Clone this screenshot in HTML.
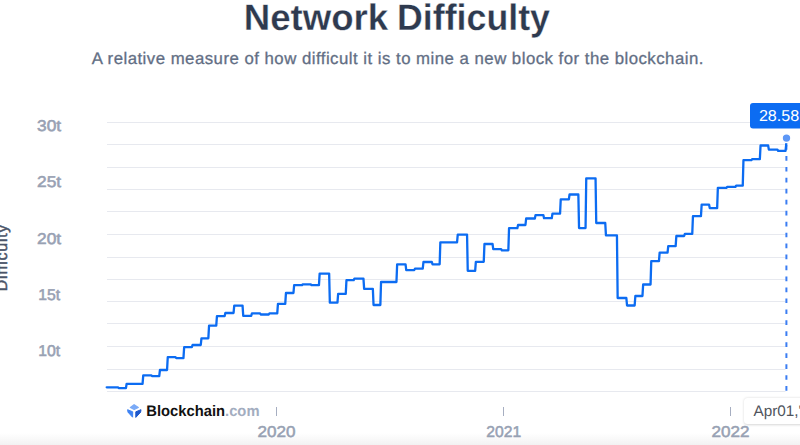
<!DOCTYPE html>
<html><head><meta charset="utf-8">
<style>
html,body{margin:0;padding:0;}
body{width:800px;height:445px;overflow:hidden;position:relative;background:#fff;font-family:"Liberation Sans",sans-serif;}
svg text{font-family:"Liberation Sans",sans-serif;text-rendering:geometricPrecision;}
#fade{position:absolute;left:0;top:433px;width:800px;height:12px;background:linear-gradient(#fff,#f5f5f5 80%,#f2f2f2);}
#date{position:absolute;left:744.3px;top:397.8px;width:70px;height:25.8px;background:#fff;border-radius:3.5px;box-shadow:0 0.5px 2.5px rgba(0,0,0,0.16);}
.tick{position:absolute;top:407px;width:1.4px;height:8.8px;background:#a6aec1;}
</style></head><body>
<div id="fade"></div>
<div class="tick" style="left:276px"></div>
<div class="tick" style="left:503px"></div>
<div class="tick" style="left:730px"></div>
<svg width="800" height="445" style="position:absolute;left:0;top:0">
<g font-size="36.8" font-weight="bold" fill="#2e3a4f" stroke="#fff" stroke-width="0.3"><text transform="translate(243.7,30.2) scale(0.995,1)">Network</text><text transform="translate(397.0,30.2) scale(0.972,1)">Difficulty</text></g>
<text x="91.7" y="63.8" font-size="16.8" fill="#626e84" stroke="#626e84" stroke-width="0.3" style="letter-spacing:0.48px">A relative measure of how difficult it is to mine a new block for the blockchain.</text>
<g font-size="15.6" fill="#98a1b3" stroke="#98a1b3" stroke-width="0.55" text-anchor="middle"><text transform="translate(49.1,131.40) scale(1.11,1)">30t</text><text transform="translate(49.1,187.45) scale(1.11,1)">25t</text><text transform="translate(49.1,243.50) scale(1.11,1)">20t</text><text transform="translate(49.1,299.55) scale(1.01,1)">15t</text><text transform="translate(49.1,355.60) scale(1.01,1)">10t</text></g>
<text transform="translate(7.45,291.3) rotate(-90)" font-size="16" fill="#4b5569" stroke="#4b5569" stroke-width="0.45" style="letter-spacing:0.72px">Difficulty</text>
<g stroke="#e7e9ef" stroke-width="1"><line x1="107" x2="785.5" y1="122.5" y2="122.5"/><line x1="107" x2="785.5" y1="144.5" y2="144.5"/><line x1="107" x2="785.5" y1="167.5" y2="167.5"/><line x1="107" x2="785.5" y1="189.5" y2="189.5"/><line x1="107" x2="785.5" y1="211.5" y2="211.5"/><line x1="107" x2="785.5" y1="234.5" y2="234.5"/><line x1="107" x2="785.5" y1="257.5" y2="257.5"/><line x1="107" x2="785.5" y1="279.5" y2="279.5"/><line x1="107" x2="785.5" y1="301.5" y2="301.5"/><line x1="107" x2="785.5" y1="323.5" y2="323.5"/><line x1="107" x2="785.5" y1="346.5" y2="346.5"/><line x1="107" x2="785.5" y1="369.5" y2="369.5"/><line x1="107" x2="785.5" y1="391.5" y2="391.5"/></g>
<line x1="786.4" x2="786.4" y1="390.8" y2="140" stroke="#3b7df2" stroke-width="2" stroke-dasharray="4.7 6.26"/>
<path d="M106.70,387.30L117.95,387.30L118.65,388.10L125.95,388.10L126.65,383.80L142.55,383.80L143.25,375.30L151.25,375.30L151.95,376.10L159.25,376.10L159.95,370.00L167.05,370.00L167.75,357.20L175.55,357.20L176.25,358.10L183.45,358.10L184.15,347.20L191.85,347.20L192.55,345.00L200.75,345.00L201.45,338.30L208.35,338.30L209.05,325.70L216.25,325.70L216.95,316.10L224.65,316.10L225.35,313.00L233.55,313.00L234.25,305.60L242.55,305.60L243.25,315.80L251.25,315.80L251.95,313.30L260.05,313.30L260.75,314.50L268.75,314.50L269.45,313.40L277.25,313.40L277.95,303.90L285.25,303.90L285.95,293.00L293.45,293.00L294.15,285.10L302.05,285.10L302.75,284.40L310.75,284.40L311.45,285.10L318.95,285.10L319.65,273.60L329.15,273.60L329.85,302.70L337.45,302.70L338.15,293.90L345.75,293.90L346.45,280.20L353.65,280.20L354.35,278.60L363.45,278.60L364.15,288.80L372.85,288.80L373.55,305.00L380.35,305.00L381.05,282.00L396.45,282.00L397.15,264.30L405.55,264.30L406.25,270.10L414.25,270.10L414.95,268.70L422.75,268.70L423.45,262.00L431.85,262.00L432.55,264.30L439.65,264.30L440.35,242.30L457.05,242.30L457.75,234.60L467.05,234.60L467.75,270.80L475.15,270.80L475.85,261.80L483.75,261.80L484.45,244.00L492.55,244.00L493.25,249.20L501.15,249.20L501.85,250.30L508.35,250.30L509.05,228.20L517.35,228.20L518.05,225.00L525.45,225.00L526.15,218.50L534.85,218.50L535.55,215.10L543.35,215.10L544.05,218.20L551.75,218.20L552.45,213.70L560.05,213.70L560.75,199.30L568.85,199.30L569.55,194.50L578.35,194.50L579.05,228.10L585.55,228.10L586.25,178.30L595.55,178.30L596.25,223.00L605.25,223.00L605.95,235.40L616.95,235.40L617.65,298.00L626.35,298.00L627.05,305.50L634.65,305.50L635.35,296.00L642.45,296.00L643.15,284.50L650.55,284.50L651.25,261.20L658.95,261.20L659.65,252.60L667.55,252.60L668.25,246.20L675.65,246.20L676.35,236.00L684.15,236.00L684.85,233.90L692.25,233.90L692.95,216.20L700.95,216.20L701.65,204.60L709.05,204.60L709.75,208.10L717.15,208.10L717.85,187.90L726.45,187.90L727.15,186.80L735.45,186.80L736.15,185.60L742.75,185.60L743.45,160.20L751.45,160.20L752.15,159.10L759.85,159.10L760.55,145.50L768.15,145.50L768.85,149.60L777.45,149.60L778.15,150.90L785.55,150.90L786.25,143.80" fill="none" stroke="#0c6cf2" stroke-width="2.3" stroke-linejoin="round" stroke-linecap="round"/>
<circle cx="786.5" cy="138.1" r="4.4" fill="#5d97f6" stroke="#fff" stroke-width="1.4"/>
<rect x="750" y="103.1" width="60" height="25.3" rx="3" fill="#0c6cf2"/>
<text transform="translate(758.9,121.1) scale(1.02,1)" font-size="15.8" fill="#fff">28.58</text>
<g stroke-linejoin="round">
<path d="M134.1,404.7 L138.3,407.5 L134.2,409.3 L130.4,407.5 Z" fill="#7aaaf7" stroke="#7aaaf7" stroke-width="1.3"/>
<path d="M127.6,409.7 L132.7,411.8 L132.6,417.2 L128,412.2 Z" fill="#3f83f3" stroke="#3f83f3" stroke-width="1"/>
<path d="M141.0,409.7 L135.8,411.8 L135.8,417.4 L140.6,412.2 Z" fill="#1d58cc" stroke="#1d58cc" stroke-width="1"/>
</g>
<text transform="translate(146.3,416.1) scale(0.972,1)" font-size="15.2" font-weight="bold" fill="#111">Blockchain<tspan fill="#a3adbf">.com</tspan></text>
<g font-size="15.7" fill="#97a1b3" stroke="#97a1b3" stroke-width="0.5" text-anchor="middle">
<text transform="translate(276.6,437.25) scale(1.09,1)">2020</text><text transform="translate(503.7,437.25) scale(1.0,1)">2021</text><text transform="translate(730.4,437.25) scale(1.09,1)">2022</text></g>
</svg>
<div id="date"></div>
<svg width="800" height="445" style="position:absolute;left:0;top:0">
<text x="753.5" y="416.35" font-size="15.3" fill="#50555d">Apr01,'22</text>
</svg>
</body></html>
